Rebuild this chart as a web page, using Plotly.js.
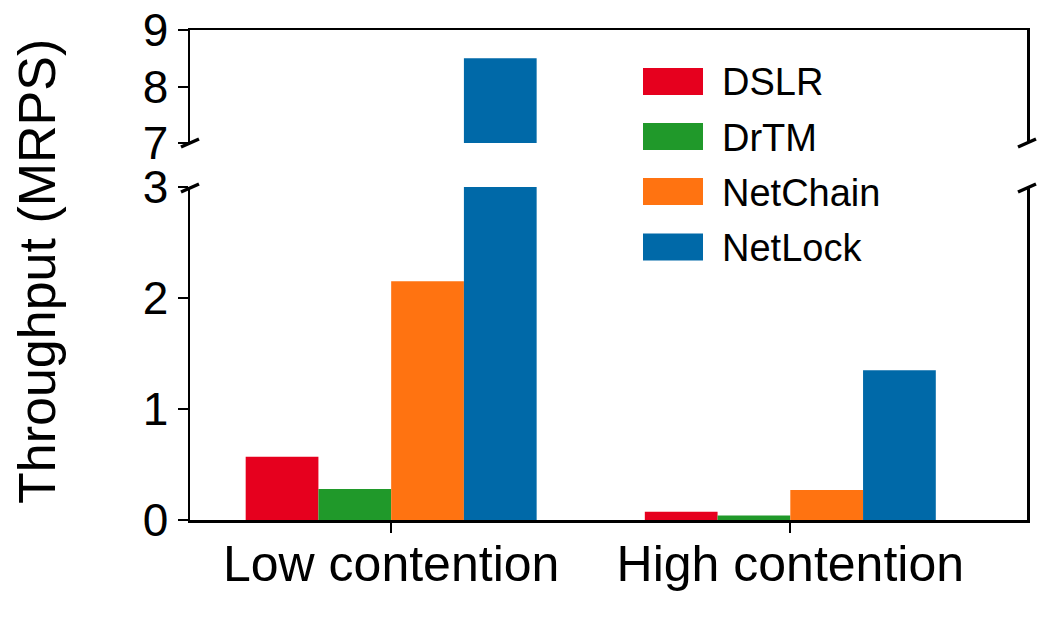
<!DOCTYPE html>
<html>
<head>
<meta charset="utf-8">
<script src="https://cdn.plot.ly/plotly-3.0.1.min.js"></script>
<style>html,body{margin:0;padding:0;background:#fff;}#chart{width:1050px;height:639px;}</style>
</head>
<body>
<div id="chart"></div>
<script>
// ---- data ----
const categories = ['Low contention', 'High contention'];
const seriesNames = ['DSLR', 'DrTM', 'NetChain', 'NetLock'];
const dslr = [0.57, 0.075];
const drtm = [0.28, 0.04];
const netchain = [2.15, 0.27];
const netlock = [8.5, 1.35];
const lowerTicks = [0, 1, 2, 3];
const upperTicks = [7, 8, 9];
const yTitle = 'Throughput (MRPS)';

// ---- style ----
const colors = ['#e6001e', '#20992a', '#ff7311', '#0069a8'];
const W = 1050, H = 639;
const FONT = 'Liberation Sans, Arial, Helvetica, sans-serif';
const px = x => x / W;
const py = y => 1 - y / H;

const seriesValues = [dslr, drtm, netchain, netlock];
const traces = [];
seriesValues.forEach((vals, i) => {
  traces.push({type: 'bar', x: categories, y: vals, name: seriesNames[i],
    marker: {color: colors[i], line: {width: 0}}, xaxis: 'x', yaxis: 'y', hoverinfo: 'none'});
  traces.push({type: 'bar', x: categories, y: vals, name: seriesNames[i],
    marker: {color: colors[i], line: {width: 0}}, xaxis: 'x2', yaxis: 'y2', hoverinfo: 'none'});
});

const xDomain = [px(190), px(1027)];
const xRange = [-0.504, 1.593];
const tickFont = {family: FONT, size: 46, color: '#000'};

// break marks
const shapes = [];
const breakCenters = [[190, 143], [190, 188], [1027, 143], [1027, 188]];
breakCenters.forEach(([cx, cy]) => {
  shapes.push({type: 'line', xref: 'paper', yref: 'paper',
    x0: px(cx - 9), y0: py(cy + 4), x1: px(cx + 9), y1: py(cy - 4),
    line: {color: '#000', width: 3.5}});
});

// custom legend
const annotations = [];
const legendCenters = [81.5, 136.5, 191.5, 247];
seriesNames.forEach((n, i) => {
  const c = legendCenters[i];
  shapes.push({type: 'rect', xref: 'paper', yref: 'paper',
    x0: px(643), x1: px(703), y0: py(c + 13.5), y1: py(c - 13.5),
    fillcolor: colors[i], line: {width: 0}});
  annotations.push({xref: 'paper', yref: 'paper', x: px(720), y: py(c + 1),
    xanchor: 'left', yanchor: 'middle', text: n, showarrow: false,
    font: {family: FONT, size: 38, color: '#000'}});
});
annotations.push({xref: 'paper', yref: 'paper', x: px(37), y: py(272),
  xanchor: 'center', yanchor: 'middle', text: yTitle, textangle: -90, showarrow: false,
  font: {family: FONT, size: 52, color: '#000'}});

const layout = {
  width: W, height: H,
  margin: {l: 0, r: 0, t: 0, b: 0, pad: 0},
  paper_bgcolor: '#fff', plot_bgcolor: '#fff',
  showlegend: false,
  barmode: 'group', bargap: 0.271, bargroupgap: 0,
  font: {family: FONT, color: '#000'},
  xaxis: {domain: xDomain, range: xRange, type: 'category', anchor: 'y',
    showline: true, linecolor: '#000', linewidth: 2.5, mirror: false,
    ticks: 'outside', ticklen: 10, tickwidth: 2, tickcolor: '#000', ticklabelstandoff: -12,
    tickfont: {family: FONT, size: 50, color: '#000'}, showgrid: false, zeroline: false, fixedrange: true},
  yaxis: {domain: [py(520), py(187)], range: [0, 3], anchor: 'x',
    tickvals: lowerTicks, ticktext: lowerTicks.map(String),
    showline: true, linecolor: '#000', linewidth: 2.5, mirror: true,
    ticks: 'outside', ticklen: 10, tickwidth: 2, tickcolor: '#000',
    tickfont: tickFont, showgrid: false, zeroline: false, fixedrange: true},
  xaxis2: {domain: xDomain, range: xRange, type: 'category', anchor: 'y2', side: 'top',
    showline: true, linecolor: '#000', linewidth: 2.5, mirror: false,
    ticks: '', showticklabels: false, showgrid: false, zeroline: false, fixedrange: true},
  yaxis2: {domain: [py(143), py(30)], range: [7, 9], anchor: 'x2',
    tickvals: upperTicks, ticktext: upperTicks.map(String),
    showline: true, linecolor: '#000', linewidth: 2.5, mirror: true,
    ticks: 'outside', ticklen: 10, tickwidth: 2, tickcolor: '#000',
    tickfont: tickFont, showgrid: false, zeroline: false, fixedrange: true},
  shapes: shapes,
  annotations: annotations
};

Plotly.newPlot('chart', traces, layout, {staticPlot: true, displayModeBar: false});
</script>
</body>
</html>
